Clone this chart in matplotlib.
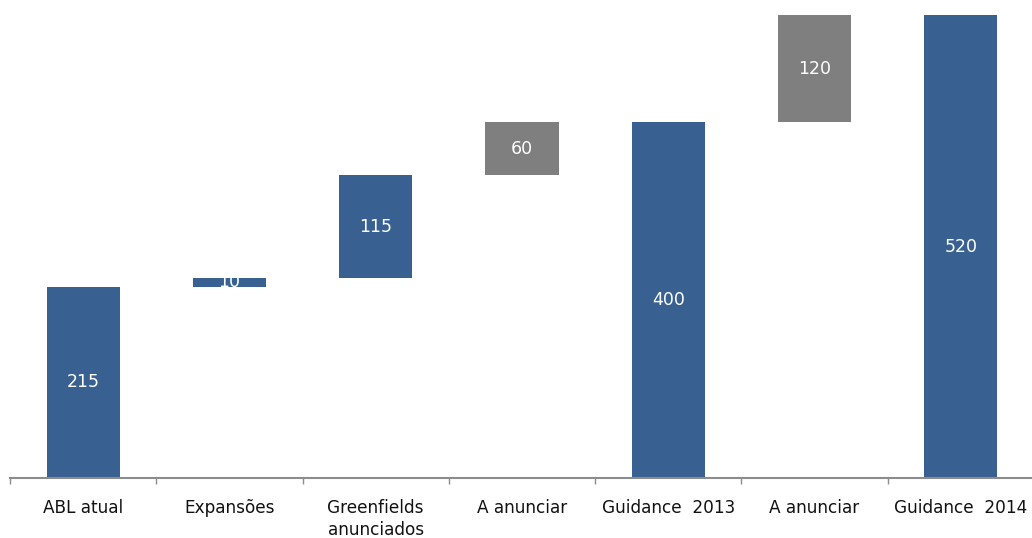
import numpy as np
import matplotlib.pyplot as plt

categorias = ["ABL atual", "Expansões", "Greenfields\nanunciados", "A anunciar",
              "Guidance  2013", "A anunciar", "Guidance  2014"]
valores = [215, 10, 115, 60, 400, 120, 520]
# base de cada barra (cascata)
bases = [0, 215, 225, 340, 0, 400, 0]
cores = ["#386192", "#386192", "#386192", "#7f7f7f", "#386192", "#7f7f7f", "#386192"]

fig = plt.figure(figsize=(10.32, 5.38), dpi=100)
ax = fig.add_axes([10/1032, 60/538, 1024/1032, 478/538])

x = np.arange(len(categorias))
ax.bar(x, valores, bottom=bases, width=0.5, color=cores, zorder=2)

for xi, v, b in zip(x, valores, bases):
    ax.text(xi, b + v/2, str(v), ha="center", va="center", color="white",
            fontsize=12.5, zorder=3)

ax.set_xlim(-0.5, len(categorias) - 0.5)
ax.set_ylim(0, 537)
ax.set_yticks([])
ax.set_xticks(x)
ax.set_xticklabels(categorias, fontsize=12.2, color="#111111", va="top",
                   linespacing=1.3)
ax.tick_params(axis="x", which="major", length=0, pad=15)
ax.set_xticks(np.arange(-0.5, len(categorias), 1), minor=True)
ax.tick_params(axis="x", which="minor", length=4.5, color="#8c8c8c", width=1)

for s in ["top", "right", "left"]:
    ax.spines[s].set_visible(False)
ax.spines["bottom"].set_color("#8c8c8c")
ax.spines["bottom"].set_linewidth(1.5)

plt.savefig("out.png", dpi=100)
plt.close()
